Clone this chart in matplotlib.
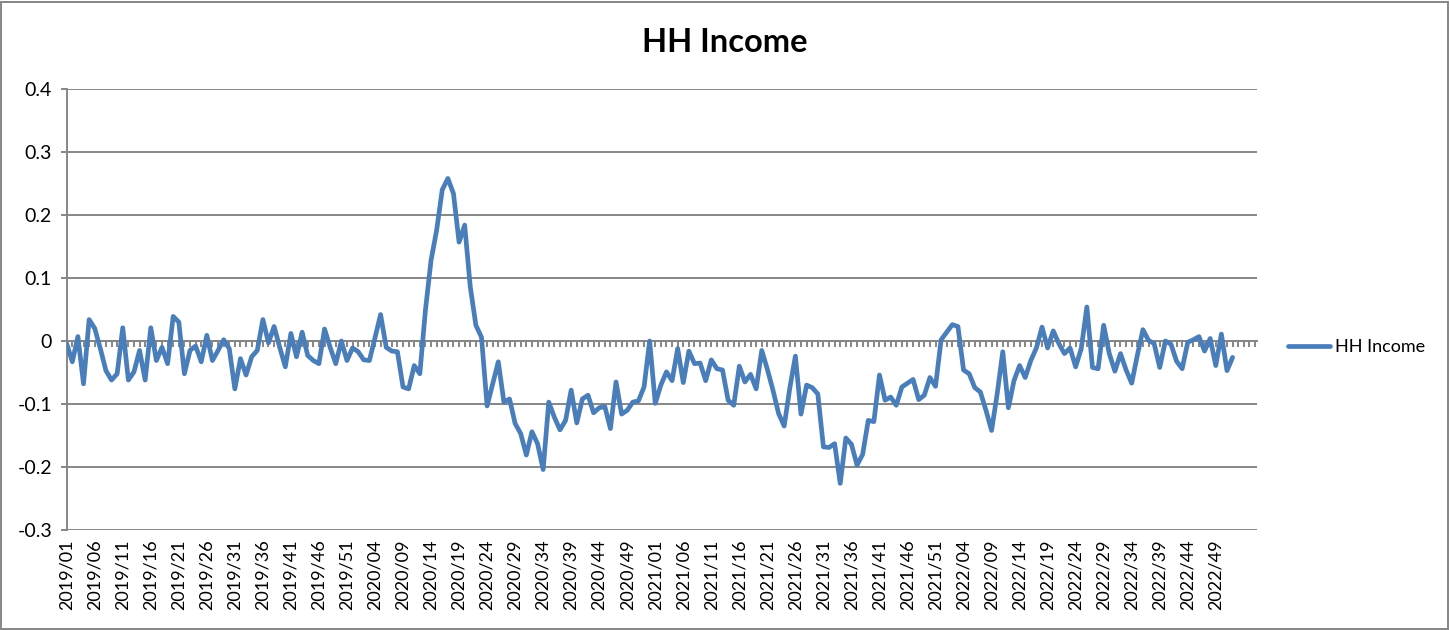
import numpy as np
import matplotlib
matplotlib.use("Agg")
import matplotlib.pyplot as plt
from matplotlib.patches import Rectangle

plt.rcParams['font.family'] = ['Lato', 'DejaVu Sans']

# weeks per year in the category axis
years = [2019, 2020, 2021, 2022]
weeks_in_year = [52, 53, 52, 52]

# weekly values
hh_income = [
    -0.004, -0.033, 0.007, -0.068, 0.034, 0.020, -0.012, -0.047, -0.062, -0.052,
    0.021, -0.062, -0.049, -0.015, -0.062, 0.021, -0.031, -0.010, -0.036, 0.039,
    0.030, -0.052, -0.015, -0.008, -0.033, 0.009, -0.031, -0.015, 0.002, -0.012,
    -0.076, -0.028, -0.054, -0.025, -0.015, 0.034, -0.003, 0.023, -0.010, -0.041,
    0.012, -0.025, 0.014, -0.023, -0.031, -0.036, 0.019, -0.010, -0.036, 0.000,
    -0.031, -0.011, -0.017, -0.030, -0.031, 0.005, 0.042, -0.010, -0.016, -0.017,
    -0.073, -0.076, -0.039, -0.052, 0.049, 0.128, 0.176, 0.240, 0.258, 0.234,
    0.157, 0.184, 0.086, 0.025, 0.006, -0.103, -0.068, -0.033, -0.097, -0.092,
    -0.131, -0.147, -0.181, -0.144, -0.163, -0.204, -0.097, -0.121, -0.141, -0.126,
    -0.078, -0.130, -0.092, -0.086, -0.114, -0.106, -0.104, -0.139, -0.065, -0.116,
    -0.110, -0.097, -0.095, -0.073, 0.000, -0.099, -0.070, -0.049, -0.063, -0.012,
    -0.066, -0.016, -0.036, -0.035, -0.063, -0.030, -0.044, -0.046, -0.094, -0.102,
    -0.040, -0.065, -0.053, -0.076, -0.015, -0.045, -0.078, -0.115, -0.135, -0.075,
    -0.024, -0.116, -0.070, -0.074, -0.084, -0.168, -0.169, -0.163, -0.226, -0.154,
    -0.164, -0.197, -0.180, -0.126, -0.128, -0.054, -0.094, -0.089, -0.102, -0.073,
    -0.067, -0.061, -0.093, -0.086, -0.058, -0.072, 0.002, 0.014, 0.026, 0.023,
    -0.046, -0.052, -0.074, -0.081, -0.110, -0.142, -0.084, -0.017, -0.106, -0.063,
    -0.039, -0.058, -0.031, -0.011, 0.022, -0.011, 0.016, -0.004, -0.020, -0.011,
    -0.041, -0.012, 0.054, -0.042, -0.044, 0.025, -0.020, -0.048, -0.020, -0.046,
    -0.067, -0.023, 0.018, 0.001, -0.004, -0.042, 0.000, -0.005, -0.032, -0.044,
    -0.002, 0.002, 0.007, -0.016, 0.004, -0.039, 0.011, -0.047, -0.026,
]

week_labels = [f"{y}/{w:02d}" for y, n in zip(years, weeks_in_year) for w in range(1, n + 1)]

line_color = '#4A7EBB'
grid_color = '#868686'

fig = plt.figure(figsize=(14.5, 6.3), dpi=100)
ax = fig.add_axes([66.7 / 1450, 1 - 530 / 630, (1256.7 - 66.7) / 1450, (530 - 89) / 630])

x = np.arange(len(hh_income))
ax.plot(x, hh_income, color=line_color, lw=3.4, solid_joinstyle='round',
        solid_capstyle='round', label='HH Income', zorder=3)

ax.set_ylim(-0.3, 0.4)
ax.set_yticks(np.arange(-0.3, 0.41, 0.1))
ax.set_yticklabels(['-0.3', '-0.2', '-0.1', '0', '0.1', '0.2', '0.3', '0.4'])
ax.set_xlim(0, 212.3)

ax.grid(axis='y', color=grid_color, lw=1.4)
ax.set_axisbelow(True)

for s in ['top', 'right']:
    ax.spines[s].set_visible(False)
ax.spines['left'].set_color(grid_color)
ax.spines['left'].set_linewidth(1.4)
ax.spines['bottom'].set_position(('data', 0))
ax.spines['bottom'].set_color(grid_color)
ax.spines['bottom'].set_linewidth(1.4)

# category tick marks hanging under the zero line
ax.set_xticks(np.arange(0, 213))
ax.tick_params(axis='x', length=4.5, width=1.4, color=grid_color, labelbottom=False)
ax.tick_params(axis='y', length=4.5, width=1.4, color=grid_color, labelsize=14, pad=6)

# category labels at the bottom of the plot area
sec = ax.secondary_xaxis('bottom')
sec.set_xticks(np.arange(0, len(week_labels), 5))
sec.set_xticklabels(week_labels[::5], rotation=90, fontsize=13)
sec.tick_params(length=0, pad=7)
sec.spines['bottom'].set_visible(False)

fig.suptitle('HH Income', x=0.5, y=1 - 42 / 630, va='center', fontsize=23.5, fontweight='bold')

ax.legend(loc='center left', bbox_to_anchor=(1288 / 1450, 1 - 347 / 630),
          bbox_transform=fig.transFigure, frameon=False, fontsize=13,
          handlelength=2.35, handletextpad=0.25, borderpad=0, borderaxespad=0)

fig.patches.append(Rectangle((0.5 / 1450, 1 / 630), 1447 / 1450, 627 / 630,
                             transform=fig.transFigure, fill=False, ec=grid_color, lw=1.4))

fig.savefig('out.png', dpi=100)
